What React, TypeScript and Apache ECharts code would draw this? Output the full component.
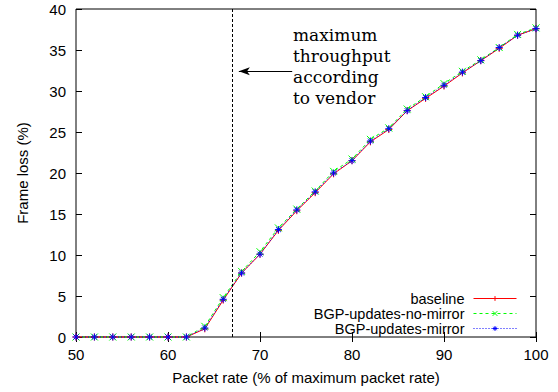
import React, { useEffect, useRef } from "react";
import * as echarts from "echarts";

const packetRate = [50, 52, 54, 56, 58, 60, 62, 64, 66, 68, 70, 72, 74, 76, 78, 80, 82, 84, 86, 88, 90, 92, 94, 96, 98, 100];
const baseline = [0, 0, 0, 0, 0, 0, 0, 1.0, 4.5, 7.8, 10.1, 13.0, 15.4, 17.6, 19.9, 21.5, 23.8, 25.3, 27.6, 29.1, 30.6, 32.2, 33.7, 35.2, 36.8, 37.6];
const noMirror = [0, 0, 0, 0, 0, 0, 0, 1.3, 4.8, 8.0, 10.4, 13.3, 15.6, 17.8, 20.2, 21.7, 24.1, 25.5, 27.8, 29.3, 30.9, 32.4, 33.8, 35.3, 36.9, 37.7];
const mirror = [0, 0, 0, 0, 0, 0, 0, 1.1, 4.6, 7.8, 10.1, 13.1, 15.5, 17.7, 20.0, 21.5, 23.9, 25.4, 27.6, 29.2, 30.7, 32.3, 33.7, 35.3, 36.8, 37.6];
const seriesNames = ["baseline", "BGP-updates-no-mirror", "BGP-updates-mirror"];
const vendorMax = 67;
const arrowFrom = [73.5, 32.4];
const arrowTo = [67.7, 32.4];
const annotation = ["maximum", "throughput", "according", "to vendor"];

const PLUS = "path://M0,5L10,5M5,0L5,10";
const CROSS = "path://M0,0L10,10M0,10L10,0";
const STAR = "path://M0,5L10,5M5,0L5,10M1.5,1.5L8.5,8.5M1.5,8.5L8.5,1.5";

export default function App() {
  const ref = useRef<HTMLDivElement>(null);
  useEffect(() => {
    const chart = echarts.init(ref.current!, undefined, { renderer: "svg" });
    const font = "'Liberation Sans', Arial, sans-serif";
    const mk = (name: string, vals: number[], color: string, symbol: string, type: any, extra: any = {}) => ({
      name,
      type: "line",
      data: packetRate.map((x, i) => [x, vals[i]]),
      symbol,
      symbolSize: 7,
      clip: false,
      lineStyle: { color, width: 1, type },
      itemStyle: { color, borderColor: color, borderWidth: 1 },
      ...extra,
    });
    const legendRow = (name: string, center: number) => ({
      data: [name],
      right: 41,
      top: center - 3,
      orient: "vertical",
      align: "right",
      padding: 0,
      itemWidth: 43,
      itemHeight: 6,
      lineStyle: { width: 1 },
      itemStyle: { borderWidth: 1 },
      textStyle: { fontFamily: font, fontSize: 14.5, lineHeight: 13, color: "#000", padding: [0, 4, 0, 0] },
      selectedMode: false,
    });
    chart.setOption({
      animation: false,
      grid: { left: 76, right: 22, top: 9, bottom: 55, show: true, borderColor: "#000", borderWidth: 1, backgroundColor: "transparent" },
      legend: [legendRow(seriesNames[0], 294), legendRow(seriesNames[1], 309), legendRow(seriesNames[2], 324)],
      xAxis: [
        {
          type: "value", min: 50, max: 100, interval: 10, position: "bottom",
          name: "Packet rate (% of maximum packet rate)", nameLocation: "middle", nameGap: 33,
          nameTextStyle: { fontFamily: font, fontSize: 15, color: "#000" },
          axisLine: { show: false }, splitLine: { show: false },
          axisTick: { show: true, inside: true, length: 5, lineStyle: { color: "#000" } },
          axisLabel: { fontFamily: font, fontSize: 15, color: "#000", margin: 10 },
        },
        {
          type: "value", min: 50, max: 100, interval: 10, position: "top",
          axisLine: { show: false }, splitLine: { show: false },
          axisTick: { show: true, inside: true, length: 5, lineStyle: { color: "#000" } },
          axisLabel: { show: false },
        },
      ],
      yAxis: [
        {
          type: "value", min: 0, max: 40, interval: 5, position: "left",
          name: "Frame loss (%)", nameLocation: "middle", nameGap: 46, nameRotate: 90,
          nameTextStyle: { fontFamily: font, fontSize: 15, color: "#000" },
          axisLine: { show: false }, splitLine: { show: false },
          axisTick: { show: true, inside: true, length: 6, lineStyle: { color: "#000" } },
          axisLabel: { fontFamily: font, fontSize: 15, color: "#000", margin: 10 },
        },
        {
          type: "value", min: 0, max: 40, interval: 5, position: "right",
          axisLine: { show: false }, splitLine: { show: false },
          axisTick: { show: true, inside: true, length: 6, lineStyle: { color: "#000" } },
          axisLabel: { show: false },
        },
      ],
      series: [
        mk(seriesNames[0], baseline, "#ff0000", PLUS, "solid", {
          markLine: {
            silent: true,
            animation: false,
            label: { show: false },
            data: [
              [
                { coord: [vendorMax, 0], symbol: "none", lineStyle: { color: "#000", width: 1, type: [3, 2] } },
                { coord: [vendorMax, 40], symbol: "none" },
              ],
              [
                { coord: arrowFrom, symbol: "none", lineStyle: { color: "#000", width: 1, type: "solid" } },
                { coord: arrowTo, symbol: "arrow", symbolSize: [6, 11] },
              ],
            ],
          },
        }),
        mk(seriesNames[1], noMirror, "#00ff00", CROSS, [3, 3]),
        mk(seriesNames[2], mirror, "#0000ff", STAR, [1, 2]),
      ],
      graphic: [
        {
          type: "text",
          left: 293,
          top: 24,
          style: {
            text: annotation.join("\n"),
            fontFamily: "'DejaVu Serif', serif",
            fontSize: 17,
            lineHeight: 21,
            fill: "#000",
          },
        },
      ],
    });
    return () => chart.dispose();
  }, []);
  return <div ref={ref} style={{ width: 558, height: 392, position: "absolute", left: 0, top: 0 }} />;
}
